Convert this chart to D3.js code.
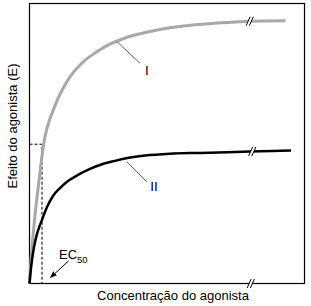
<!DOCTYPE html>
<html><head><meta charset="utf-8">
<script src="https://cdn.jsdelivr.net/npm/d3@7/dist/d3.min.js"></script>
<style>body{margin:0;background:#fff}svg{display:block}</style>
</head><body>
<script>
// Concentration in multiples of EC50, effect in % of full-agonist maximum
const concI = [0,0.12,0.28,0.44,0.64,0.88,1.1,1.32,1.6,1.92,2.3,3.04,4.2,5.24,6.28,7.64,9.64,12.28,15.0,17.64,20.48];
const effI  = [0,8.9,18.1,26.1,34.4,43.9,51.9,57.6,62.2,66.2,70.6,77.2,83.9,87.7,90.7,93.4,95.9,98.0,99.1,99.8,100];
const concII = [0,0.12,0.28,0.48,0.72,1.0,1.4,1.88,2.44,3.08,3.88,4.84,5.64,6.6,7.64,9.24,11.24,13.64,17.64,20.92];
const effII  = [0,5.9,11.6,16.6,20.7,24.2,29.1,33.3,36.3,39.0,41.3,43.6,45.1,46.4,47.6,48.7,49.4,49.7,50.2,50.6];
const ec50 = 1.0;
const ec50Effect = 53;
const breakConc = 17.7;
const xLabel = "Concentração do agonista";
const yLabel = "Efeito do agonista (E)";
const curveNames = ["I","II"];

const W = 311, H = 306;
const x = d3.scaleLinear().domain([0,22]).range([29.5,304.5]);
const y = d3.scaleLinear().domain([0,106.54]).range([283.5,3.5]);
const svg = d3.select("body").append("svg").attr("width",W).attr("height",H);
const font = "'Liberation Sans', Arial, sans-serif";

// frame
svg.append("rect").attr("x",x(0)).attr("y",y(106.54)).attr("width",x(22)-x(0)).attr("height",y(0)-y(106.54))
  .attr("fill","none").attr("stroke","#000").attr("stroke-width",1.2);

const line = d3.line().x(d=>x(d[0])).y(d=>y(d[1])).curve(d3.curveMonotoneX);
const dataI = concI.map((c,i)=>[c,effI[i]]);
const dataII = concII.map((c,i)=>[c,effII[i]]);

// dashed EC50 guides
svg.append("path").attr("d",`M${x(0)},${y(ec50Effect)}H${x(ec50)}V${y(0)}`)
  .attr("fill","none").attr("stroke","#000").attr("stroke-width",1).attr("stroke-dasharray","3,2");

svg.append("path").datum(dataI).attr("d",line).attr("fill","none").attr("stroke","#a8a8a8").attr("stroke-width",3);
svg.append("path").datum(dataII).attr("d",line).attr("fill","none").attr("stroke","#000").attr("stroke-width",2.5);

// break marks
function interp(cs, es, c){ for(let i=1;i<cs.length;i++){ if(cs[i]>=c){const t=(c-cs[i-1])/(cs[i]-cs[i-1]);return es[i-1]+t*(es[i]-es[i-1]);} } return es[es.length-1]; }
function breakMark(px, py){
  const g = svg.append("g");
  g.append("path").attr("d",`M${px-3.5},${py+4}L${px+0.5},${py-4}L${px+3.5},${py-4}L${px-0.5},${py+4}Z`).attr("fill","#fff");
  [-1.6,1.6].forEach(o=>g.append("line").attr("x1",px+o-2).attr("y1",py+4.5).attr("x2",px+o+2).attr("y2",py-4.5)
    .attr("stroke","#000").attr("stroke-width",1));
}
breakMark(x(breakConc)-1, y(interp(concI,effI,breakConc)));
breakMark(x(breakConc)+1.5, y(interp(concII,effII,breakConc+0.2)));
breakMark(x(breakConc), y(0));

// curve labels with leaders
svg.append("line").attr("x1",x(7.0)).attr("y1",y(92.0)).attr("x2",x(8.84)).attr("y2",y(83.8)).attr("stroke","#333").attr("stroke-width",0.8);
svg.append("text").attr("x",x(9.4)).attr("y",y(79.3)).attr("text-anchor","middle").attr("font-family",font).attr("font-size",13.5).text(curveNames[0]);
svg.append("line").attr("x1",x(7.78)).attr("y1",y(46.3)).attr("x2",x(9.38)).attr("y2",y(38.7)).attr("stroke","#333").attr("stroke-width",0.8);
svg.append("text").attr("x",x(9.96)).attr("y",y(35.2)).attr("text-anchor","middle").attr("font-family",font).attr("font-size",13.5).text(curveNames[1]);

// EC50 label and arrow
const ecT = svg.append("text").attr("x",59).attr("y",259).attr("font-family",font).attr("font-size",13);
ecT.append("tspan").text("EC");
ecT.append("tspan").attr("dy",3.5).attr("font-size",9.5).text("50");
svg.append("defs").append("marker").attr("id","ah").attr("viewBox","0 0 10 10").attr("refX",9).attr("refY",5)
  .attr("markerWidth",7).attr("markerHeight",7).attr("orient","auto")
  .append("path").attr("d","M0,1L10,5L0,9Z").attr("fill","#000");
svg.append("line").attr("x1",68.5).attr("y1",261).attr("x2",50.5).attr("y2",277.5).attr("stroke","#000").attr("stroke-width",1).attr("marker-end","url(#ah)");

// axis labels
svg.append("text").attr("x",173).attr("y",300).attr("text-anchor","middle").attr("font-family",font).attr("font-size",13).text(xLabel);
svg.append("text").attr("transform","translate(17,126) rotate(-90)").attr("text-anchor","middle").attr("font-family",font).attr("font-size",13).text(yLabel);
</script>
</body></html>
